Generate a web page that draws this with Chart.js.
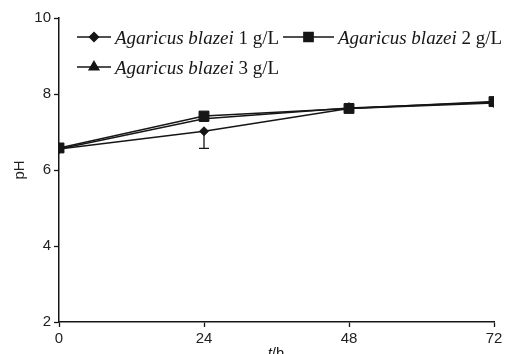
<!DOCTYPE html>
<html>
<head>
<meta charset="utf-8">
<script src="https://cdn.jsdelivr.net/npm/chart.js@4.4.0/dist/chart.umd.min.js"></script>
<style>
  html, body { margin: 0; padding: 0; background: #fff; }
  #wrap { width: 508px; height: 354px; }
</style>
</head>
<body>
<div id="wrap"><canvas id="phChart" width="508" height="354"></canvas></div>
<script>
// date
const timeLabels = [0, 24, 48, 72];
const ph1 = [6.55, 7.02, 7.62, 7.76];
const ph2 = [6.58, 7.42, 7.62, 7.8];
const ph3 = [6.55, 7.35, 7.63, 7.78];
const err1 = [0, 0.45, 0, 0];   // bara de eroare (doar in jos)
const seriesNames = ['1 g/L', '2 g/L', '3 g/L'];
const yTicks = [2, 4, 6, 8, 10];

const ink = '#161616';

function toPoints(vals) {
    return timeLabels.map((t, i) => ({ x: t, y: vals[i] }));
}

// deseneaza bara de eroare pentru seria 1
const errorBars = {
    id: 'errorBars',
    afterDatasetsDraw(chart) {
        const ctx = chart.ctx;
        const xs = chart.scales.x, ys = chart.scales.y;
        ctx.save();
        ctx.strokeStyle = ink;
        ctx.lineWidth = 1.3;
        err1.forEach((e, i) => {
            if (!e) return;
            const px = xs.getPixelForValue(timeLabels[i]);
            const top = ys.getPixelForValue(ph1[i]);
            const bot = ys.getPixelForValue(ph1[i] - e);
            ctx.beginPath();
            ctx.moveTo(px, top);
            ctx.lineTo(px, bot);
            ctx.moveTo(px - 5, bot);
            ctx.lineTo(px + 5, bot);
            ctx.stroke();
        });
        ctx.restore();
    }
};

// legenda cu text italic + normal si titlul axei x
const customLegend = {
    id: 'customLegend',
    afterDraw(chart) {
        const ctx = chart.ctx;
        const items = [
            { x: 77, y: 37, style: 'rectRot', r: 4.5, name: seriesNames[0], lx: 34 },
            { x: 283, y: 37, style: 'rect', r: 6.5, name: seriesNames[1], lx: 51 },
            { x: 77, y: 67, style: 'triangle', r: 5.5, name: seriesNames[2], lx: 34 }
        ];
        ctx.save();
        items.forEach(it => {
            ctx.strokeStyle = ink;
            ctx.lineWidth = 1.5;
            ctx.beginPath();
            ctx.moveTo(it.x, it.y);
            ctx.lineTo(it.x + it.lx, it.y);
            ctx.stroke();
            ctx.fillStyle = ink;
            Chart.helpers.drawPoint(ctx, { pointStyle: it.style, radius: it.r, borderWidth: 1 }, it.x + it.lx / 2, it.y);
            ctx.fillStyle = ink;
            ctx.textBaseline = 'alphabetic';
            ctx.textAlign = 'left';
            let tx = it.x + it.lx + 4;
            ctx.font = 'italic 19px "Liberation Serif"';
            const it1 = 'Agaricus blazei';
            ctx.fillText(it1, tx, it.y + 7);
            tx += ctx.measureText(it1 + ' ').width;
            ctx.font = '19px "Liberation Serif"';
            ctx.fillText(it.name, tx, it.y + 7);
        });
        // titlul axei x: t/h
        ctx.font = 'italic 15px "Liberation Sans"';
        ctx.textBaseline = 'alphabetic';
        const cx = 276;
        const tw = ctx.measureText('t').width;
        ctx.font = '15px "Liberation Sans"';
        const hw = ctx.measureText('/h').width;
        const start = cx - (tw + hw) / 2;
        ctx.font = 'italic 15px "Liberation Sans"';
        ctx.fillText('t', start, 358);
        ctx.font = '15px "Liberation Sans"';
        ctx.fillText('/h', start + tw, 358);
        ctx.restore();
    }
};

const common = { borderColor: ink, backgroundColor: ink, borderWidth: 1.5, pointBorderWidth: 1, tension: 0, fill: false };

new Chart(document.getElementById('phChart').getContext('2d'), {
    type: 'line',
    data: {
        datasets: [
            Object.assign({ label: seriesNames[0], data: toPoints(ph1), pointStyle: 'rectRot', pointRadius: 4.5 }, common),
            Object.assign({ label: seriesNames[2], data: toPoints(ph3), pointStyle: 'triangle', pointRadius: 5.5 }, common),
            Object.assign({ label: seriesNames[1], data: toPoints(ph2), pointStyle: 'rect', pointRadius: 7 }, common)
        ]
    },
    options: {
        responsive: false,
        animation: false,
        layout: { padding: { top: 18, right: 14, left: 0, bottom: 0 } },
        plugins: { legend: { display: false }, tooltip: { enabled: false } },
        scales: {
            x: {
                type: 'linear',
                min: 0, max: 72,
                afterBuildTicks: s => { s.ticks = timeLabels.map(v => ({ value: v })); },
                afterFit: s => { s.height = 32; },
                grid: { display: true, drawOnChartArea: false, drawTicks: true, tickLength: 5, tickColor: ink, tickWidth: 1.3 },
                border: { color: ink, width: 1.5 },
                ticks: { color: '#222', font: { family: 'Liberation Sans', size: 15 }, padding: 3, maxRotation: 0 }
            },
            y: {
                min: 2, max: 10,
                afterBuildTicks: s => { s.ticks = yTicks.map(v => ({ value: v })); },
                afterFit: s => { s.width = 59; },
                grid: { display: true, drawOnChartArea: false, drawTicks: true, tickLength: 5, tickColor: ink, tickWidth: 1.3 },
                border: { color: ink, width: 1.5 },
                title: { display: true, text: 'pH', color: '#222', font: { family: 'Liberation Sans', size: 15 }, padding: { top: 11, bottom: 0 } },
                ticks: { color: '#222', font: { family: 'Liberation Sans', size: 15 }, padding: 3 }
            }
        }
    },
    plugins: [errorBars, customLegend]
});
</script>
</body>
</html>
